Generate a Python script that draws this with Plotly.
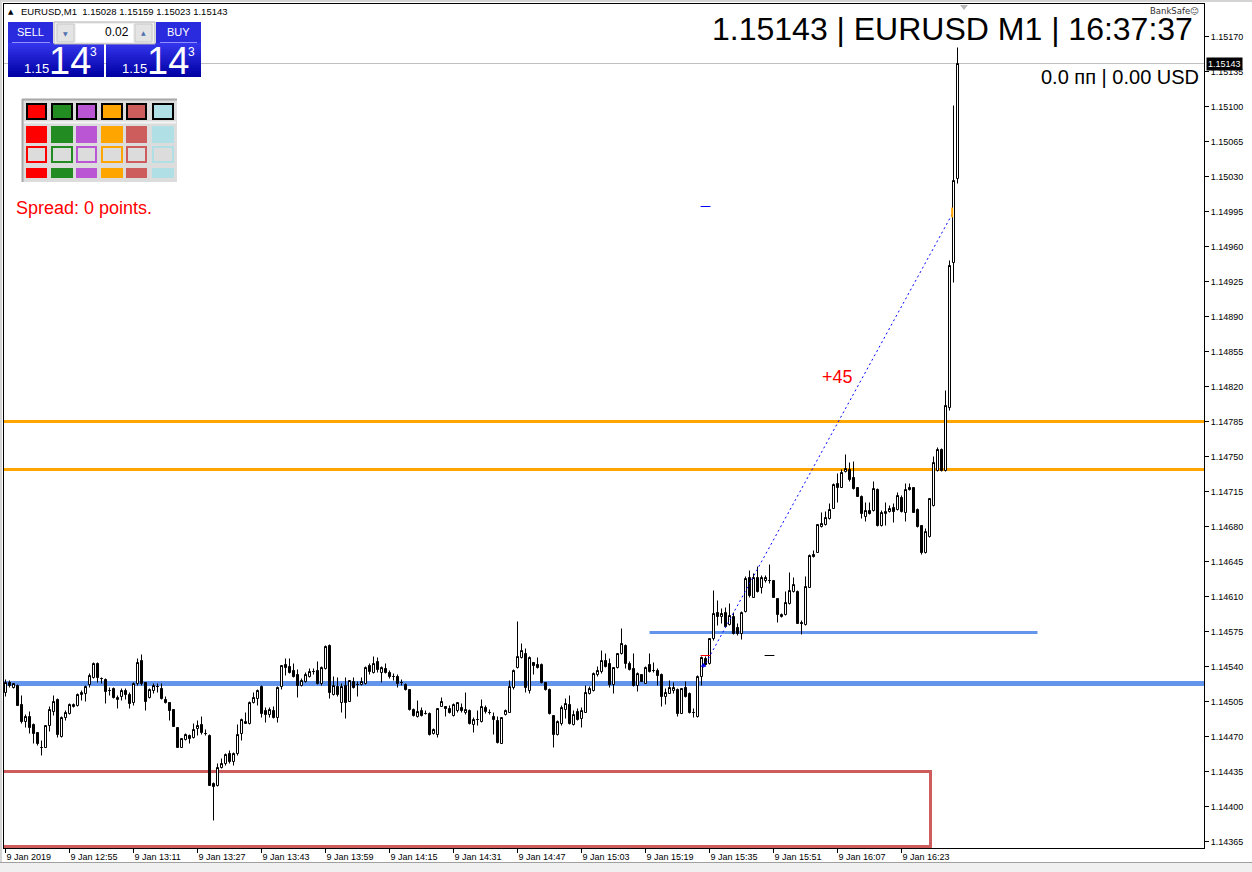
import plotly.graph_objects as go
import pandas as pd

# ------------------------------------------------------------------ data
first_bar = "2019-01-09 12:39"          # M1 bars, one per minute

# prices in points (1 point = 0.00001)
open_pts = [
    114514, 114524, 114519, 114521, 114502, 114485, 114490, 114482, 114474, 114459,
    114459, 114481, 114495, 114507, 114470, 114489, 114493, 114500, 114501, 114512,
    114513, 114522, 114529, 114543, 114528, 114527, 114516, 114518, 114507, 114510,
    114516, 114512, 114504, 114523, 114546, 114524, 114509, 114516, 114520, 114518,
    114507, 114504, 114497, 114479, 114459, 114467, 114471, 114469, 114478, 114482,
    114473, 114471, 114423, 114421, 114439, 114443, 114453, 114445, 114453, 114473,
    114483, 114483, 114504, 114508, 114520, 114496, 114492, 114496, 114489, 114520,
    114542, 114540, 114536, 114532, 114521, 114525, 114530, 114535, 114536, 114523,
    114538, 114561, 114512, 114520, 114504, 114521, 114505, 114525, 114522, 114522,
    114523, 114541, 114534, 114545, 114534, 114538, 114534, 114530, 114530, 114524,
    114522, 114517, 114497, 114490, 114496, 114493, 114493, 114473, 114472, 114500,
    114500, 114498, 114491, 114496, 114499, 114494, 114496, 114482, 114487, 114485,
    114499, 114494, 114490, 114486, 114463, 114492, 114494, 114519, 114539, 114549,
    114553, 114516, 114544, 114542, 114542, 114524, 114517, 114491, 114472, 114483,
    114497, 114502, 114482, 114495, 114488, 114494, 114513, 114516, 114532, 114535,
    114546, 114543, 114522, 114539, 114553, 114561, 114543, 114538, 114521, 114532,
    114523, 114542, 114536, 114536, 114532, 114510, 114513, 114516, 114517, 114493,
    114519, 114513, 114494, 114490, 114530, 114548, 114543, 114568, 114594, 114590,
    114594, 114582, 114590, 114579, 114573, 114595, 114629, 114609, 114629, 114619,
    114626, 114626, 114626, 114608, 114590, 114592, 114603, 114615, 114615, 114584,
    114582, 114619, 114652, 114654, 114680, 114682, 114688, 114698, 114723, 114719,
    114735, 114737, 114729, 114719, 114710, 114690, 114696, 114696, 114717, 114681,
    114693, 114695, 114699, 114697, 114709, 114694, 114719, 114719, 114697, 114681,
    114654, 114670, 114701, 114736, 114757, 114736, 114799, 114944, 115028,
]
high_pts = [
    114527, 114526, 114523, 114522, 114511, 114492, 114495, 114483, 114474, 114466,
    114481, 114500, 114511, 114508, 114490, 114496, 114503, 114503, 114513, 114516,
    114521, 114533, 114544, 114544, 114529, 114528, 114519, 114519, 114511, 114518,
    114518, 114514, 114524, 114548, 114552, 114524, 114518, 114523, 114523, 114523,
    114510, 114504, 114497, 114479, 114468, 114473, 114472, 114483, 114486, 114490,
    114477, 114472, 114424, 114443, 114448, 114453, 114456, 114454, 114482, 114488,
    114494, 114505, 114514, 114517, 114521, 114499, 114499, 114500, 114520, 114541,
    114548, 114548, 114543, 114537, 114528, 114534, 114538, 114538, 114545, 114540,
    114561, 114562, 114530, 114529, 114523, 114529, 114526, 114529, 114525, 114529,
    114540, 114543, 114550, 114549, 114540, 114543, 114536, 114533, 114532, 114527,
    114523, 114517, 114498, 114506, 114499, 114496, 114494, 114478, 114498, 114509,
    114500, 114501, 114503, 114504, 114503, 114514, 114497, 114489, 114496, 114507,
    114501, 114497, 114494, 114490, 114489, 114497, 114526, 114537, 114585, 114563,
    114558, 114550, 114544, 114549, 114543, 114524, 114518, 114491, 114486, 114501,
    114508, 114511, 114496, 114498, 114499, 114521, 114520, 114534, 114540, 114556,
    114553, 114548, 114539, 114553, 114578, 114562, 114545, 114553, 114534, 114532,
    114540, 114553, 114544, 114538, 114533, 114518, 114526, 114524, 114518, 114518,
    114525, 114514, 114498, 114531, 114550, 114550, 114568, 114616, 114606, 114598,
    114599, 114603, 114594, 114583, 114595, 114630, 114636, 114633, 114640, 114631,
    114631, 114642, 114626, 114608, 114593, 114615, 114634, 114629, 114616, 114586,
    114630, 114652, 114656, 114682, 114694, 114695, 114703, 114723, 114733, 114737,
    114752, 114744, 114745, 114719, 114711, 114704, 114704, 114725, 114718, 114696,
    114704, 114701, 114703, 114714, 114711, 114723, 114723, 114719, 114698, 114681,
    114678, 114708, 114750, 114759, 114758, 114816, 114946, 115101, 115159,
]
low_pts = [
    114510, 114519, 114518, 114501, 114483, 114479, 114473, 114463, 114461, 114451,
    114459, 114475, 114491, 114469, 114469, 114486, 114492, 114499, 114500, 114506,
    114505, 114519, 114528, 114524, 114523, 114503, 114511, 114508, 114498, 114506,
    114507, 114498, 114501, 114521, 114521, 114496, 114508, 114513, 114514, 114507,
    114503, 114486, 114480, 114459, 114459, 114466, 114463, 114468, 114471, 114472,
    114471, 114421, 114386, 114420, 114438, 114441, 114443, 114441, 114451, 114466,
    114483, 114482, 114503, 114501, 114489, 114484, 114489, 114488, 114484, 114517,
    114531, 114533, 114529, 114509, 114520, 114524, 114529, 114532, 114522, 114521,
    114537, 114508, 114511, 114510, 114494, 114488, 114505, 114518, 114510, 114521,
    114522, 114532, 114533, 114534, 114524, 114533, 114528, 114526, 114519, 114521,
    114516, 114496, 114490, 114489, 114490, 114492, 114471, 114472, 114469, 114500,
    114490, 114493, 114490, 114494, 114494, 114492, 114482, 114474, 114481, 114484,
    114493, 114492, 114472, 114463, 114463, 114491, 114494, 114517, 114538, 114548,
    114514, 114513, 114532, 114538, 114523, 114516, 114492, 114459, 114471, 114481,
    114488, 114482, 114481, 114486, 114479, 114494, 114512, 114515, 114530, 114533,
    114539, 114519, 114513, 114538, 114552, 114538, 114536, 114520, 114515, 114525,
    114523, 114534, 114534, 114521, 114500, 114502, 114513, 114513, 114490, 114493,
    114509, 114493, 114489, 114489, 114521, 114541, 114542, 114566, 114581, 114583,
    114579, 114581, 114572, 114571, 114567, 114594, 114609, 114609, 114614, 114613,
    114624, 114623, 114609, 114584, 114589, 114591, 114602, 114614, 114583, 114572,
    114581, 114619, 114649, 114654, 114679, 114681, 114687, 114698, 114704, 114719,
    114734, 114725, 114717, 114710, 114688, 114685, 114692, 114695, 114680, 114680,
    114681, 114694, 114684, 114696, 114694, 114685, 114716, 114694, 114679, 114652,
    114653, 114669, 114700, 114735, 114735, 114735, 114796, 114924, 115023,
]
close_pts = [
    114524, 114521, 114523, 114501, 114485, 114490, 114479, 114473, 114463, 114459,
    114481, 114497, 114505, 114472, 114489, 114494, 114502, 114502, 114512, 114514,
    114520, 114531, 114543, 114529, 114528, 114515, 114516, 114509, 114509, 114516,
    114512, 114503, 114523, 114544, 114523, 114505, 114517, 114521, 114520, 114508,
    114504, 114496, 114480, 114459, 114468, 114472, 114468, 114477, 114481, 114474,
    114473, 114421, 114420, 114439, 114443, 114452, 114445, 114453, 114472, 114487,
    114485, 114504, 114509, 114516, 114493, 114492, 114497, 114489, 114519, 114541,
    114539, 114534, 114530, 114521, 114526, 114532, 114535, 114535, 114523, 114539,
    114560, 114514, 114521, 114512, 114520, 114504, 114526, 114519, 114522, 114525,
    114539, 114535, 114543, 114537, 114539, 114534, 114530, 114530, 114523, 114524,
    114517, 114497, 114491, 114495, 114491, 114493, 114472, 114477, 114498, 114505,
    114498, 114494, 114502, 114504, 114496, 114497, 114483, 114487, 114487, 114500,
    114495, 114494, 114487, 114464, 114489, 114496, 114520, 114536, 114550, 114556,
    114519, 114549, 114541, 114539, 114524, 114517, 114493, 114472, 114485, 114499,
    114503, 114483, 114492, 114487, 114496, 114514, 114518, 114533, 114536, 114546,
    114540, 114522, 114539, 114553, 114563, 114543, 114537, 114521, 114533, 114525,
    114539, 114535, 114536, 114531, 114510, 114514, 114519, 114519, 114493, 114518,
    114510, 114494, 114494, 114530, 114549, 114542, 114568, 114593, 114590, 114593,
    114580, 114591, 114573, 114573, 114594, 114628, 114611, 114629, 114615, 114629,
    114629, 114626, 114609, 114592, 114592, 114604, 114616, 114622, 114583, 114583,
    114620, 114651, 114650, 114682, 114683, 114689, 114697, 114722, 114719, 114734,
    114738, 114727, 114718, 114710, 114693, 114696, 114693, 114718, 114681, 114694,
    114695, 114698, 114695, 114711, 114695, 114717, 114717, 114694, 114680, 114654,
    114675, 114708, 114744, 114757, 114736, 114801, 114941, 115026, 115143,
]

x_tick_times = ["2019-01-09 12:39", "2019-01-09 12:55", "2019-01-09 13:11", "2019-01-09 13:27",
                "2019-01-09 13:43", "2019-01-09 13:59", "2019-01-09 14:15", "2019-01-09 14:31",
                "2019-01-09 14:47", "2019-01-09 15:03", "2019-01-09 15:19", "2019-01-09 15:35",
                "2019-01-09 15:51", "2019-01-09 16:07", "2019-01-09 16:23"]
x_tick_text = ["9 Jan 2019", "9 Jan 12:55", "9 Jan 13:11", "9 Jan 13:27", "9 Jan 13:43",
               "9 Jan 13:59", "9 Jan 14:15", "9 Jan 14:31", "9 Jan 14:47", "9 Jan 15:03",
               "9 Jan 15:19", "9 Jan 15:35", "9 Jan 15:51", "9 Jan 16:07", "9 Jan 16:23"]
y_tick_values = [1.14365, 1.14400, 1.14435, 1.14470, 1.14505, 1.14540, 1.14575, 1.14610,
                 1.14645, 1.14680, 1.14715, 1.14750, 1.14785, 1.14820, 1.14855, 1.14890,
                 1.14925, 1.14960, 1.14995, 1.15030, 1.15065, 1.15100, 1.15135, 1.15170]

bid_price = 1.15143
orange_levels = [1.14785, 1.14737]
blue_level = 1.14523
blue_segment_times = ["2019-01-09 15:20", "2019-01-09 16:57"]
blue_segment_price = 1.14574
red_box_times = ["2019-01-09 12:00", "2019-01-09 16:30:15"]
red_box_prices = [1.14360, 1.14435]
trend_times = ["2019-01-09 15:33:30", "2019-01-09 16:35:45"]
trend_prices = [1.14539, 1.14993]
mark_times = ["2019-01-09 15:34", "2019-01-09 15:34", "2019-01-09 15:50"]
mark_prices = [1.15000, 1.14551, 1.14551]
mark_colors = ["#0000FF", "#FF0000", "#000000"]

# ------------------------------------------------------------------ figure
W, H = 1252, 872
L, R, T, B = 4, 1204, 4, 848


def PX(x):
    return (x - L) / (R - L)


def PY(y):
    return (B - y) / (B - T)


times = pd.date_range(first_bar, periods=len(open_pts), freq="min")
# 4 px per bar; bar centres land on pixel centres for crisp candles
x_start = pd.Timestamp(first_bar) - pd.Timedelta(seconds=22.5)
x_end = x_start + pd.Timedelta(minutes=300)

fig = go.Figure()
fig.add_trace(go.Candlestick(
    x=times,
    open=[v / 100000 for v in open_pts],
    high=[v / 100000 for v in high_pts],
    low=[v / 100000 for v in low_pts],
    close=[v / 100000 for v in close_pts],
    increasing=dict(line=dict(color="black", width=1), fillcolor="white"),
    decreasing=dict(line=dict(color="black", width=1), fillcolor="black"),
    whiskerwidth=0, showlegend=False, hoverinfo="skip",
))

# trend line (dotted)
fig.add_trace(go.Scatter(x=pd.to_datetime(trend_times), y=trend_prices, mode="lines",
                         line=dict(color="#0000FF", width=1, dash="2px,3px"),
                         showlegend=False, hoverinfo="skip"))
# small order marks
fig.add_trace(go.Scatter(x=pd.to_datetime(mark_times), y=mark_prices, mode="markers",
                         marker=dict(symbol="line-ew", size=7, line=dict(width=1, color=mark_colors)),
                         showlegend=False, hoverinfo="skip"))
fig.add_trace(go.Scatter(x=[pd.Timestamp("2019-01-09 16:35:40")], y=[1.14994], mode="markers",
                         marker=dict(symbol="line-ns", size=7, line=dict(width=2, color="#FFA500")),
                         showlegend=False, hoverinfo="skip"))
fig.add_trace(go.Scatter(x=[pd.Timestamp("2019-01-09 15:33:30")], y=[1.14541], mode="markers",
                         marker=dict(symbol="triangle-up", size=5, color="#0000FF"),
                         showlegend=False, hoverinfo="skip"))

shapes = []
# bid line
shapes.append(dict(type="line", xref="paper", x0=0, x1=1, yref="y", y0=bid_price, y1=bid_price,
                   line=dict(color="#C0C0C0", width=1), layer="below"))
for lv in orange_levels:
    shapes.append(dict(type="line", xref="paper", x0=0, x1=1, yref="y", y0=lv, y1=lv,
                       line=dict(color="#FFA500", width=3), layer="below"))
shapes.append(dict(type="line", xref="paper", x0=0, x1=1, yref="y", y0=blue_level, y1=blue_level,
                   line=dict(color="#6495ED", width=5), layer="below"))
shapes.append(dict(type="line", xref="x", yref="y",
                   x0=blue_segment_times[0], x1=blue_segment_times[1],
                   y0=blue_segment_price, y1=blue_segment_price,
                   line=dict(color="#6495ED", width=3), layer="below"))
shapes.append(dict(type="rect", xref="x", yref="y",
                   x0=red_box_times[0], x1=red_box_times[1],
                   y0=red_box_prices[0], y1=red_box_prices[1],
                   line=dict(color="#CD5C5C", width=3), layer="below"))


def prect(x0, y0, x1, y1, fill, line=None, lw=0):
    d = dict(type="rect", xref="paper", yref="paper", x0=PX(x0), x1=PX(x1), y0=PY(y1), y1=PY(y0),
             fillcolor=fill, layer="above")
    d["line"] = dict(color=line, width=lw) if line else dict(width=0)
    return d


def pline(x0, y0, x1, y1, color, lw=1):
    return dict(type="line", xref="paper", yref="paper", x0=PX(x0), x1=PX(x1), y0=PY(y0), y1=PY(y1),
                line=dict(color=color, width=lw), layer="above")


# window chrome around the chart
shapes.append(prect(0, 0, W, 2, "#D4D4D4"))
shapes.append(prect(0, 0, 2, H, "#D4D4D4"))
shapes.append(prect(0, 863, W, H, "#F0F0F0"))
shapes.append(pline(0, 862.5, W, 862.5, "#A0A0A0"))
# shift marker at top
shapes.append(dict(type="path", xref="paper", yref="paper",
                   path=f"M {PX(960)} {PY(5)} L {PX(968)} {PY(5)} L {PX(964)} {PY(10)} Z",
                   fillcolor="#B8B8B8", line=dict(width=0), layer="above"))

# trade panel
btn = "#2A2ADE"
shapes.append(prect(8, 22, 53, 43, btn))
shapes.append(prect(156, 22, 201, 43, btn))
shapes.append(pline(12, 42.5, 50, 42.5, "#9090FF"))
shapes.append(pline(160, 42.5, 197, 42.5, "#9090FF"))
top_c, bot_c = (52, 52, 236), (0, 0, 164)
nb = 17
for k in range(nb):
    f = k / (nb - 1)
    col = "rgb(%d,%d,%d)" % tuple(round(a + (b - a) * f) for a, b in zip(top_c, bot_c))
    y0 = 43 + k * 2
    shapes.append(prect(8, y0, 104, y0 + 2, col))
    shapes.append(prect(106, y0, 201, y0 + 2, col))
shapes.append(prect(54, 22, 155, 44, "#F0F0F0", "#B0B0B0", 1))
shapes.append(prect(76, 24, 133, 42, "white"))
shapes.append(prect(57, 24, 74, 42, "#E4E4E4", "#C8C8C8", 1))
shapes.append(prect(135, 24, 152, 42, "#E4E4E4", "#C8C8C8", 1))

# colour palette
shapes.append(prect(22, 99, 177, 182, "#DCDCDC"))
shapes.append(pline(22, 99.5, 177, 99.5, "#A8A8A8", 2))
shapes.append(pline(22.5, 99, 22.5, 182, "#A8A8A8", 2))
shapes.append(pline(24, 122.5, 176, 122.5, "#F4F4F4", 2))
pal = ["#FF0000", "#228B22", "#BA55D3", "#FFA500", "#CD5C5C", "#B0E0E6"]
cols = [(26, 47), (51, 73), (76, 97), (101, 123), (126, 147), (152, 174)]
for c, (a, b) in zip(pal, cols):
    shapes.append(prect(a + 1, 104, b - 1, 119, c, "black", 2))
    shapes.append(prect(a, 126, b, 143, c))
    shapes.append(prect(a + 1, 147, b - 1, 162, "#DCDCDC", c, 2))
    shapes.append(prect(a, 168, b, 178, c))

ann = []


def text(x, y, s, size, color="black", xa="left", family="Liberation Sans", ya="middle", bg=None):
    d = dict(xref="paper", yref="paper", x=PX(x), y=PY(y), text=s, showarrow=False,
             xanchor=xa, yanchor=ya, font=dict(family=family, size=size, color=color))
    if bg:
        d["bgcolor"] = bg
    ann.append(d)


text(6, 12, "▲", 7, xa="left", family="DejaVu Sans")
text(19, 12, "EURUSD,M1\u00a0\u00a01.15028 1.15159 1.15023 1.15143", 9.5)
text(1195, 29, "1.15143 | EURUSD M1 | 16:37:37", 32, xa="right")
text(1201, 77, "0.0 пп | 0.00 USD", 20, xa="right")
text(1201, 11, "BankSafe☺", 8.5, color="#303030", xa="right", family="DejaVu Sans")
text(14, 208, "Spread: 0 points.", 18, color="#FF0000")
text(837, 377, "+45", 18, color="#FF0000", xa="center")
# panel texts
text(30.5, 32, "SELL", 11, color="white", xa="center")
text(178.5, 32, "BUY", 11, color="white", xa="center")
text(131, 32, "0.02", 12, xa="right")
text(65.5, 33, "▼", 6, color="#5070B0", xa="center", family="DejaVu Sans")
text(143.5, 32, "▲", 6, color="#5070B0", xa="center", family="DejaVu Sans")
for bx in (8, 106):
    text(bx + 14, 68, "1.15", 13, color="white", xa="left")
    text(bx + 62, 61, "14", 38, color="white", xa="center")
    text(bx + 85, 52, "3", 12, color="white", xa="center")

# current price label on the axis
ann.append(dict(xref="paper", yref="y", x=1, y=bid_price, xanchor="left", yanchor="middle",
                xshift=2, text="1.15143", showarrow=False, bgcolor="black", borderpad=1,
                font=dict(family="Liberation Sans", size=9, color="white")))

fig.update_layout(
    width=W, height=H,
    margin=dict(l=L, r=W - R, t=T, b=H - B, pad=0),
    paper_bgcolor="white", plot_bgcolor="white",
    shapes=shapes, annotations=ann,
    showlegend=False,
    boxgap=0.5, boxgroupgap=0,
    xaxis=dict(type="date", range=[x_start, x_end], rangeslider=dict(visible=False),
               showgrid=False, zeroline=False, showline=True, linecolor="black", linewidth=1,
               mirror=True, ticks="outside", ticklen=4, tickcolor="black",
               tickvals=pd.to_datetime(x_tick_times), ticktext=x_tick_text,
               ticklabelposition="outside right",
               tickfont=dict(family="Liberation Sans", size=9, color="black"),
               automargin=False, fixedrange=True),
    yaxis=dict(side="right", range=[1.143585, 1.152025], showgrid=False, zeroline=False,
               showline=True, linecolor="black", linewidth=1, mirror=True,
               ticks="outside", ticklen=4, tickcolor="black",
               tickvals=y_tick_values, ticktext=["%.5f" % v for v in y_tick_values],
               tickfont=dict(family="Liberation Sans", size=9, color="black"),
               automargin=False, fixedrange=True),
)

fig.write_html("out.html")
